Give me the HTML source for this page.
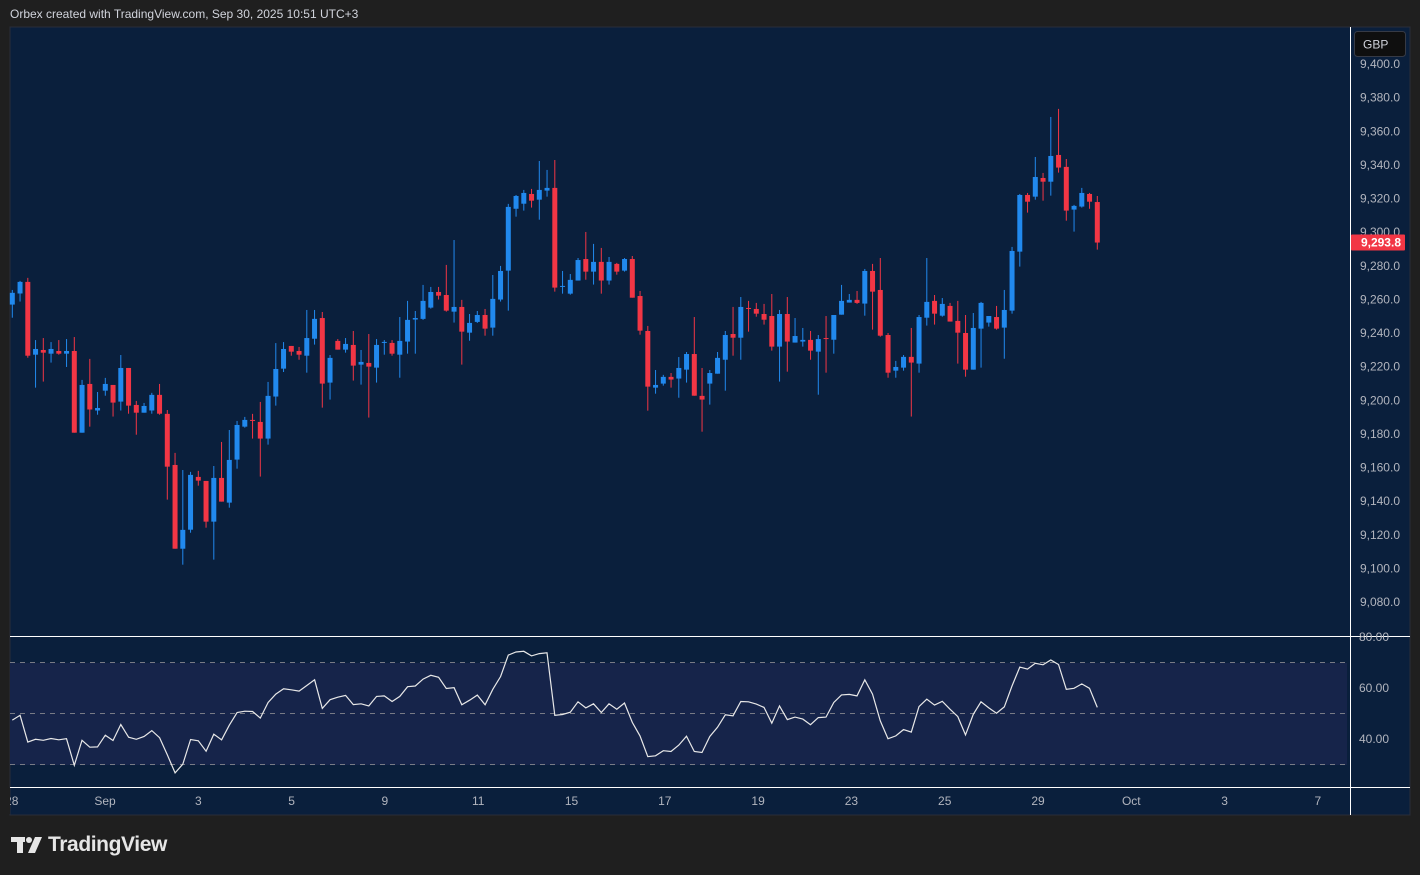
<!DOCTYPE html>
<html><head><meta charset="utf-8">
<style>
html,body{margin:0;padding:0;background:#1f1f1f;width:1420px;height:875px;overflow:hidden;font-family:"Liberation Sans",sans-serif;}
#hdr{position:absolute;left:10px;top:7px;font-size:12px;color:#d1d4dc;}
#logo{position:absolute;left:11px;top:833px;font-size:21px;font-weight:bold;color:#e6e6e6;letter-spacing:-0.4px;display:flex;align-items:center;}
svg{position:absolute;left:0;top:0;}
</style></head><body>
<div id="hdr">Orbex created with TradingView.com, Sep 30, 2025 10:51 UTC+3</div>
<div id="logo"><svg width="32" height="20" style="position:static;margin-right:5px"><rect x="0" y="2" width="14" height="5" fill="#e6e6e6"/><rect x="6" y="2" width="6" height="16" fill="#e6e6e6"/><circle cx="18" cy="5" r="3" fill="#e6e6e6"/><polygon points="24,2 31,2 24,18 17,18" fill="#e6e6e6"/></svg>TradingView</div>
<svg id="chart" width="1420" height="875"></svg>
<script>
const opens=[9256.9,9263.5,9270.4,9227.1,9229.9,9227.7,9229.3,9227.7,9229.3,9180.7,9209.7,9193.9,9205.7,9209.1,9199.2,9219.2,9197.2,9192.6,9193.9,9203.2,9191.9,9161.5,9111.7,9123.0,9154.4,9152.0,9127.8,9153.8,9139.1,9164.7,9184.3,9188.3,9187.1,9177.2,9202.2,9218.8,9232.3,9229.3,9226.5,9236.6,9248.9,9210.5,9235.3,9230.1,9232.9,9221.2,9222.2,9219.4,9234.1,9234.1,9227.1,9234.9,9248.0,9248.4,9255.1,9264.4,9262.6,9252.7,9255.5,9240.2,9246.6,9250.7,9243.2,9259.9,9277.1,9313.9,9316.9,9322.7,9319.3,9324.7,9326.3,9267.6,9263.4,9271.2,9284.0,9276.5,9282.3,9271.2,9281.1,9277.1,9284.0,9262.0,9241.2,9207.5,9209.9,9213.9,9212.9,9218.2,9227.5,9202.6,9209.9,9215.8,9224.1,9239.4,9237.2,9254.9,9254.3,9251.3,9250.1,9231.9,9251.3,9234.3,9234.9,9235.9,9228.9,9237.0,9236.0,9250.9,9258.1,9259.7,9257.5,9276.9,9265.6,9238.8,9217.6,9219.4,9225.8,9221.8,9249.1,9259.1,9250.3,9256.1,9247.2,9240.0,9218.2,9242.6,9246.2,9249.5,9243.2,9253.3,9288.4,9322.1,9321.1,9332.2,9330.0,9345.9,9338.8,9313.4,9315.2,9322.7,9317.9];
const highs=[9265.6,9271.0,9272.8,9235.8,9237.0,9234.6,9235.8,9236.4,9237.6,9212.1,9224.6,9204.9,9213.3,9209.1,9226.9,9219.2,9199.6,9198.4,9204.4,9209.7,9194.2,9168.7,9158.5,9157.4,9158.0,9152.0,9160.9,9175.2,9182.3,9187.7,9190.1,9191.9,9199.0,9210.9,9234.0,9234.6,9232.3,9231.7,9253.7,9253.7,9252.5,9226.9,9236.4,9237.0,9241.2,9229.9,9239.4,9236.4,9235.8,9235.8,9249.5,9259.1,9253.1,9268.6,9267.4,9267.4,9280.5,9295.3,9259.7,9251.3,9253.1,9254.3,9274.5,9279.9,9316.8,9322.1,9325.1,9325.7,9342.3,9337.0,9342.9,9276.9,9275.1,9284.6,9300.1,9293.0,9290.6,9285.2,9281.7,9284.6,9285.8,9265.0,9244.2,9218.0,9215.1,9216.2,9225.7,9228.7,9249.5,9219.2,9218.0,9228.7,9241.2,9255.5,9261.4,9259.1,9257.9,9257.3,9263.2,9253.7,9261.4,9248.9,9243.0,9241.2,9238.8,9250.1,9250.7,9268.6,9263.2,9265.0,9278.1,9281.1,9284.6,9240.0,9223.4,9226.9,9243.0,9250.7,9284.6,9262.6,9260.8,9257.9,9259.1,9250.7,9251.9,9258.5,9250.1,9256.1,9265.6,9291.2,9322.7,9323.3,9344.7,9335.2,9368.5,9373.3,9343.5,9316.2,9326.3,9323.3,9321.5];
const lows=[9249.1,9258.7,9225.3,9207.5,9211.1,9222.4,9227.1,9219.8,9180.7,9180.7,9184.3,9191.4,9202.7,9190.3,9193.9,9192.0,9179.5,9192.6,9192.0,9191.4,9140.9,9111.7,9102.2,9121.2,9149.2,9124.2,9105.2,9139.7,9136.1,9159.3,9183.7,9177.2,9154.6,9173.6,9196.8,9216.8,9226.5,9224.1,9216.4,9233.1,9195.6,9200.4,9230.1,9228.3,9211.7,9209.3,9189.7,9210.5,9227.1,9226.5,9213.4,9227.7,9227.7,9247.8,9254.5,9259.9,9252.7,9246.2,9221.2,9235.4,9246.0,9238.4,9238.4,9258.7,9253.3,9309.2,9312.8,9314.6,9307.4,9321.1,9264.6,9263.4,9262.8,9271.2,9271.7,9268.8,9263.4,9268.8,9274.7,9276.5,9261.0,9239.0,9193.8,9203.9,9208.7,9207.5,9201.5,9210.5,9202.7,9181.3,9197.4,9215.8,9205.7,9226.5,9224.1,9240.8,9249.7,9245.0,9229.5,9211.1,9217.0,9234.3,9231.9,9224.1,9203.3,9216.4,9227.7,9250.9,9258.1,9257.3,9250.3,9242.0,9237.8,9213.4,9213.4,9217.6,9190.3,9216.4,9244.4,9245.0,9249.7,9246.8,9221.8,9214.0,9218.2,9219.4,9243.8,9242.0,9224.7,9251.5,9279.5,9311.6,9319.3,9318.7,9321.7,9335.4,9306.8,9300.3,9314.6,9313.9,9289.6];
const closes=[9263.9,9270.4,9226.5,9230.5,9228.3,9230.5,9227.7,9229.3,9180.7,9209.1,9194.5,9195.4,9209.7,9198.6,9219.2,9196.8,9192.6,9196.6,9203.2,9192.0,9160.5,9111.7,9122.9,9155.6,9152.2,9127.8,9153.8,9139.7,9164.5,9185.3,9188.3,9187.9,9177.2,9202.6,9218.6,9230.5,9228.9,9227.1,9237.0,9248.4,9209.9,9225.2,9230.1,9233.5,9220.6,9222.8,9220.0,9232.9,9234.7,9227.7,9235.3,9247.8,9248.9,9259.1,9264.4,9262.2,9253.3,9255.5,9240.8,9246.0,9250.7,9242.6,9260.3,9276.9,9315.0,9321.5,9323.3,9318.7,9325.1,9326.3,9267.0,9268.0,9271.6,9283.4,9276.5,9282.3,9271.2,9282.3,9276.5,9284.0,9261.0,9241.4,9208.1,9209.1,9213.9,9212.3,9219.2,9227.5,9202.7,9200.4,9216.2,9225.2,9238.8,9237.2,9255.5,9254.5,9251.5,9247.9,9231.9,9251.3,9234.9,9238.2,9235.9,9229.5,9236.4,9236.6,9250.7,9259.1,9259.7,9257.9,9276.9,9264.6,9238.4,9216.4,9219.8,9225.8,9222.4,9249.5,9258.5,9251.5,9257.3,9246.8,9240.2,9218.2,9243.0,9257.9,9250.1,9242.6,9253.7,9288.8,9322.1,9318.1,9332.8,9330.0,9345.3,9338.4,9312.8,9315.6,9323.3,9318.1,9293.8];
const rsiValues=[47.4,49.3,38.8,39.9,39.5,40.2,39.7,40.1,29.7,39.5,36.8,36.9,41.5,39.4,45.7,40.7,39.9,41.0,43.3,40.5,33.8,26.7,30.1,39.8,39.3,35.2,41.9,39.7,45.4,50.4,50.9,50.8,48.2,54.3,57.6,59.7,59.3,58.8,61.0,63.2,52.0,55.4,56.4,57.1,53.5,53.8,53.0,56.7,56.9,54.7,56.7,60.5,60.8,63.5,65.0,64.2,59.8,60.1,53.4,55.2,57.2,53.4,59.5,64.5,72.9,74.1,74.4,72.6,73.5,73.8,49.3,49.6,50.5,54.6,52.2,53.8,50.4,53.8,51.7,54.1,46.5,41.2,33.1,33.4,35.4,35.1,37.6,41.1,35.1,34.7,41.0,44.6,49.5,49.1,54.7,54.6,53.7,52.4,46.2,53.0,47.6,48.6,47.8,45.6,48.4,48.6,54.3,57.3,57.5,56.9,63.2,57.6,47.1,40.1,41.2,43.7,42.7,52.7,55.6,53.3,54.8,51.7,48.8,41.6,49.7,54.6,52.2,50.1,52.6,60.8,68.2,67.4,69.7,69.1,71.0,69.2,59.5,59.9,61.6,59.9,52.4];
const priceTicks=[9400,9380,9360,9340,9320,9300,9280,9260,9240,9220,9200,9180,9160,9140,9120,9100,9080];
const rsiTicks=[80,60,40];
const timeLabels=["28","Sep","3","5","9","11","15","17","19","23","25","29","Oct","3","7"];
const timeLabelIdx=[-2,0,2,4,6,8,10,12,14,16,18,20,22,24,26];
const lastPrice=9293.8;

const NS="http://www.w3.org/2000/svg";
const svg=document.getElementById('chart');
function el(t,a,p){const e=document.createElementNS(NS,t);for(const k in a)e.setAttribute(k,a[k]);(p||svg).appendChild(e);return e;}
const yP=p=>64+(9400-p)*1.68125;
const yR=v=>688-(v-60)*2.55;
const xC=i=>12.3+i*7.75;
const xD=d=>105+d*46.65;
let r=el('rect',{x:10,y:27,width:1400,height:788,fill:'#0a1f3c',stroke:'#2a2e39'});

r=el('rect',{x:10,y:663,width:1337,height:102,fill:'#16244a'});

[70,50,30].forEach(v=>{const l=el('line',{x1:10,x2:1347,y1:yR(v),y2:yR(v),stroke:'#787b86','stroke-dasharray':'5,5','stroke-width':1});
});
const sep=[['line',{x1:1350.5,x2:1350.5,y1:27,y2:815}],['line',{x1:10,x2:1410,y1:636.5,y2:636.5}],['line',{x1:10,x2:1410,y1:787.5,y2:787.5}]];
sep.forEach((s,k)=>{const l=el(s[0],Object.assign({stroke:'#ffffff','stroke-width':1},s[1]));
});
const g=el('g',{});
for(let i=0;i<opens.length;i++){
  const up=closes[i]>=opens[i];const c=up?'#2189ee':'#f23645';const x=xC(i);
  const w=el('line',{x1:x,x2:x,y1:yP(highs[i]),y2:yP(lows[i]),stroke:c,'stroke-width':1},g);
  
  const t=Math.min(yP(opens[i]),yP(closes[i]));const h=Math.max(1,Math.abs(yP(opens[i])-yP(closes[i])));
  const b=el('rect',{x:x-2.5,y:t,width:5,height:h,fill:c},g);
  
}
const pts=rsiValues.map((v,i)=>xC(i).toFixed(1)+','+yR(v).toFixed(1)).join(' ');
const rl=el('polyline',{points:pts,fill:'none',stroke:'#e8e8e8','stroke-width':1.2});

priceTicks.forEach(p=>{const t=el('text',{x:1400,y:yP(p)+4,'text-anchor':'end','font-size':12,fill:'#b2b5be','font-family':'Liberation Sans, sans-serif'});
t.textContent=p.toLocaleString('en-US',{minimumFractionDigits:1});
});
rsiTicks.forEach(v=>{const t=el('text',{x:1389,y:yR(v)+4,'text-anchor':'end','font-size':12,fill:'#b2b5be','font-family':'Liberation Sans, sans-serif'});
t.textContent=v.toFixed(2);});
el('rect',{x:1351,y:28,width:58,height:8,fill:'#0a1f3c'});
const ly=yP(lastPrice);
const tg=el('rect',{x:1351,y:ly-8,width:54,height:16,fill:'#f23645',rx:1});

const tt=el('text',{x:1401,y:ly+4,'text-anchor':'end','font-size':12,'font-weight':'bold',fill:'#ffffff','font-family':'Liberation Sans, sans-serif'});
tt.textContent=lastPrice.toLocaleString('en-US',{minimumFractionDigits:1});

const gb=el('rect',{x:1354.5,y:31.5,width:51,height:25,rx:3,fill:'#0f0f0f',stroke:'#363a45'});

const gt=el('text',{x:1363,y:48.5,'font-size':12,fill:'#d1d4dc','font-family':'Liberation Sans, sans-serif'});gt.textContent='GBP';

const tl=el('g',{});
timeLabels.forEach((s,k)=>{const t=el('text',{x:xD(timeLabelIdx[k]),y:805,'text-anchor':'middle','font-size':12,fill:'#b2b5be','font-family':'Liberation Sans, sans-serif'},tl);
t.textContent=s;});
el('rect',{x:0,y:788,width:10,height:26,fill:'#1f1f1f'});
</script>
</body></html>
